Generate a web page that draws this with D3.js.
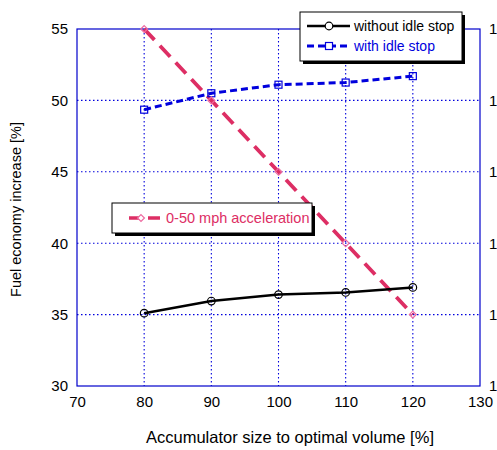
<!DOCTYPE html>
<html>
<head>
<meta charset="utf-8">
<script src="https://cdn.jsdelivr.net/npm/d3@7"></script>
<style>
body { margin: 0; background: #fff; }
svg { font-family: Arial, "Liberation Sans", sans-serif; }
</style>
</head>
<body>
<script>
const sizes = [80, 90, 100, 110, 120];
const withoutIdle = [35.1, 35.95, 36.4, 36.55, 36.9];
const withIdle = [49.35, 50.5, 51.1, 51.25, 51.7];
const accel = [15, 14, 13, 12, 11];
const xTicks = [70, 80, 90, 100, 110, 120, 130];
const yTicks = [30, 35, 40, 45, 50, 55];
const y2Ticks = [10, 11, 12, 13, 14, 15];

const w = 497, h = 450;
const m = {l: 77, r: 17, t: 29, b: 64};

const svg = d3.select('body').append('svg').attr('width', w).attr('height', h);

const x = d3.scaleLinear().domain([70, 130]).range([m.l, w - m.r]);
const y = d3.scaleLinear().domain([30, 55]).range([h - m.b, m.t]);
const y2 = d3.scaleLinear().domain([10, 15]).range([h - m.b, m.t]);

// grid
svg.append('g').selectAll('line').data(xTicks.slice(1, -1)).enter().append('line')
  .attr('x1', d => x(d)).attr('x2', d => x(d)).attr('y1', m.t).attr('y2', h - m.b)
  .attr('stroke', '#0000dd').attr('stroke-dasharray', '1.5,2.5').attr('stroke-width', 1.1);
svg.append('g').selectAll('line').data(yTicks.slice(1, -1)).enter().append('line')
  .attr('y1', d => y(d)).attr('y2', d => y(d)).attr('x1', m.l).attr('x2', w - m.r)
  .attr('stroke', '#0000dd').attr('stroke-dasharray', '1.5,2.5').attr('stroke-width', 1.1);

// frame
svg.append('rect').attr('x', m.l).attr('y', m.t).attr('width', w - m.l - m.r).attr('height', h - m.t - m.b)
  .attr('fill', 'none').attr('stroke', '#0000cc').attr('stroke-width', 1.2);

// axes
const xAxis = svg.append('g').attr('transform', `translate(0,${h - m.b})`)
  .call(d3.axisBottom(x).tickValues(xTicks).tickSize(0).tickPadding(10));
const yAxis = svg.append('g').attr('transform', `translate(${m.l},0)`)
  .call(d3.axisLeft(y).tickValues(yTicks).tickSize(0).tickPadding(9));
const y2Axis = svg.append('g').attr('transform', `translate(${w - m.r},0)`)
  .call(d3.axisRight(y2).tickValues(y2Ticks).tickSize(0).tickPadding(9));
[xAxis, yAxis, y2Axis].forEach(a => {
  a.select('.domain').remove();
  a.selectAll('text').attr('fill', '#000').style('font-size', '15px')
    .style('font-family', 'Arial, "Liberation Sans", sans-serif');
});

// axis titles
svg.append('text').attr('x', 290).attr('y', 443).attr('text-anchor', 'middle')
  .style('font-size', '16.5px').text('Accumulator size to optimal volume [%]');
svg.append('text').attr('transform', `translate(21,${(m.t + h - m.b) / 2 + 2}) rotate(-90)`)
  .attr('text-anchor', 'middle').style('font-size', '14.5px').text('Fuel economy increase [%]');

// series
const line = (ys, sc) => d3.line().x((d, i) => x(sizes[i])).y(d => sc(d))(ys);

svg.append('path').attr('d', line(accel, y2)).attr('fill', 'none')
  .attr('stroke', '#dd2e64').attr('stroke-width', 3.8).attr('stroke-dasharray', '15,8');
svg.append('path').attr('d', line(withIdle, y)).attr('fill', 'none')
  .attr('stroke', '#0000dd').attr('stroke-width', 3).attr('stroke-dasharray', '7,4');
svg.append('path').attr('d', line(withoutIdle, y)).attr('fill', 'none')
  .attr('stroke', '#000').attr('stroke-width', 2.5);

svg.append('g').selectAll('circle').data(withoutIdle).enter().append('circle')
  .attr('cx', (d, i) => x(sizes[i])).attr('cy', d => y(d)).attr('r', 3.8)
  .attr('fill', 'none').attr('stroke', '#000').attr('stroke-width', 1.2);
svg.append('g').selectAll('rect').data(withIdle).enter().append('rect')
  .attr('x', (d, i) => x(sizes[i]) - 3.5).attr('y', d => y(d) - 3.5).attr('width', 7).attr('height', 7)
  .attr('fill', 'none').attr('stroke', '#0000dd').attr('stroke-width', 1.2);
svg.append('g').selectAll('path').data(accel).enter().append('path')
  .attr('d', d3.symbol(d3.symbolDiamond2, 30))
  .attr('transform', (d, i) => `translate(${x(sizes[i])},${y2(d)})`)
  .attr('fill', 'none').attr('stroke', '#ee6aa0').attr('stroke-width', 1.2);

// legend 1
const lg = svg.append('g');
lg.append('rect').attr('x', 303).attr('y', 15).attr('width', 162).attr('height', 49).attr('fill', '#000');
lg.append('rect').attr('x', 300).attr('y', 12).attr('width', 162).attr('height', 49)
  .attr('fill', '#fff').attr('stroke', '#000').attr('stroke-width', 1);
lg.append('line').attr('x1', 307).attr('x2', 350).attr('y1', 26).attr('y2', 26).attr('stroke', '#000').attr('stroke-width', 2.5);
lg.append('circle').attr('cx', 329).attr('cy', 26).attr('r', 3.8).attr('fill', '#fff').attr('stroke', '#000').attr('stroke-width', 1.2);
lg.append('text').attr('x', 354).attr('y', 31).style('font-size', '14px').text('without idle stop');
lg.append('line').attr('x1', 307).attr('x2', 350).attr('y1', 46).attr('y2', 46)
  .attr('stroke', '#0000dd').attr('stroke-width', 3).attr('stroke-dasharray', '7,4');
lg.append('rect').attr('x', 325.5).attr('y', 42.5).attr('width', 7).attr('height', 7).attr('fill', '#fff').attr('stroke', '#0000dd').attr('stroke-width', 1.2);
lg.append('text').attr('x', 354).attr('y', 51).attr('fill', '#0000dd').style('font-size', '14px').text('with idle stop');

// legend 2
const lg2 = svg.append('g');
lg2.append('rect').attr('x', 115).attr('y', 206).attr('width', 200).attr('height', 30).attr('fill', '#000');
lg2.append('rect').attr('x', 112).attr('y', 203).attr('width', 200).attr('height', 30)
  .attr('fill', '#fff').attr('stroke', '#000').attr('stroke-width', 1);
lg2.append('line').attr('x1', 129).attr('x2', 160).attr('y1', 218).attr('y2', 218)
  .attr('stroke', '#dd2e64').attr('stroke-width', 3.5).attr('stroke-dasharray', '14,5');
lg2.append('path').attr('d', d3.symbol(d3.symbolDiamond2, 30)).attr('transform', 'translate(141,218)')
  .attr('fill', '#fff').attr('stroke', '#ee6aa0').attr('stroke-width', 1.2);
lg2.append('text').attr('x', 166).attr('y', 223).attr('fill', '#dd2e64').style('font-size', '14.5px').text('0-50 mph acceleration');
</script>
</body>
</html>
